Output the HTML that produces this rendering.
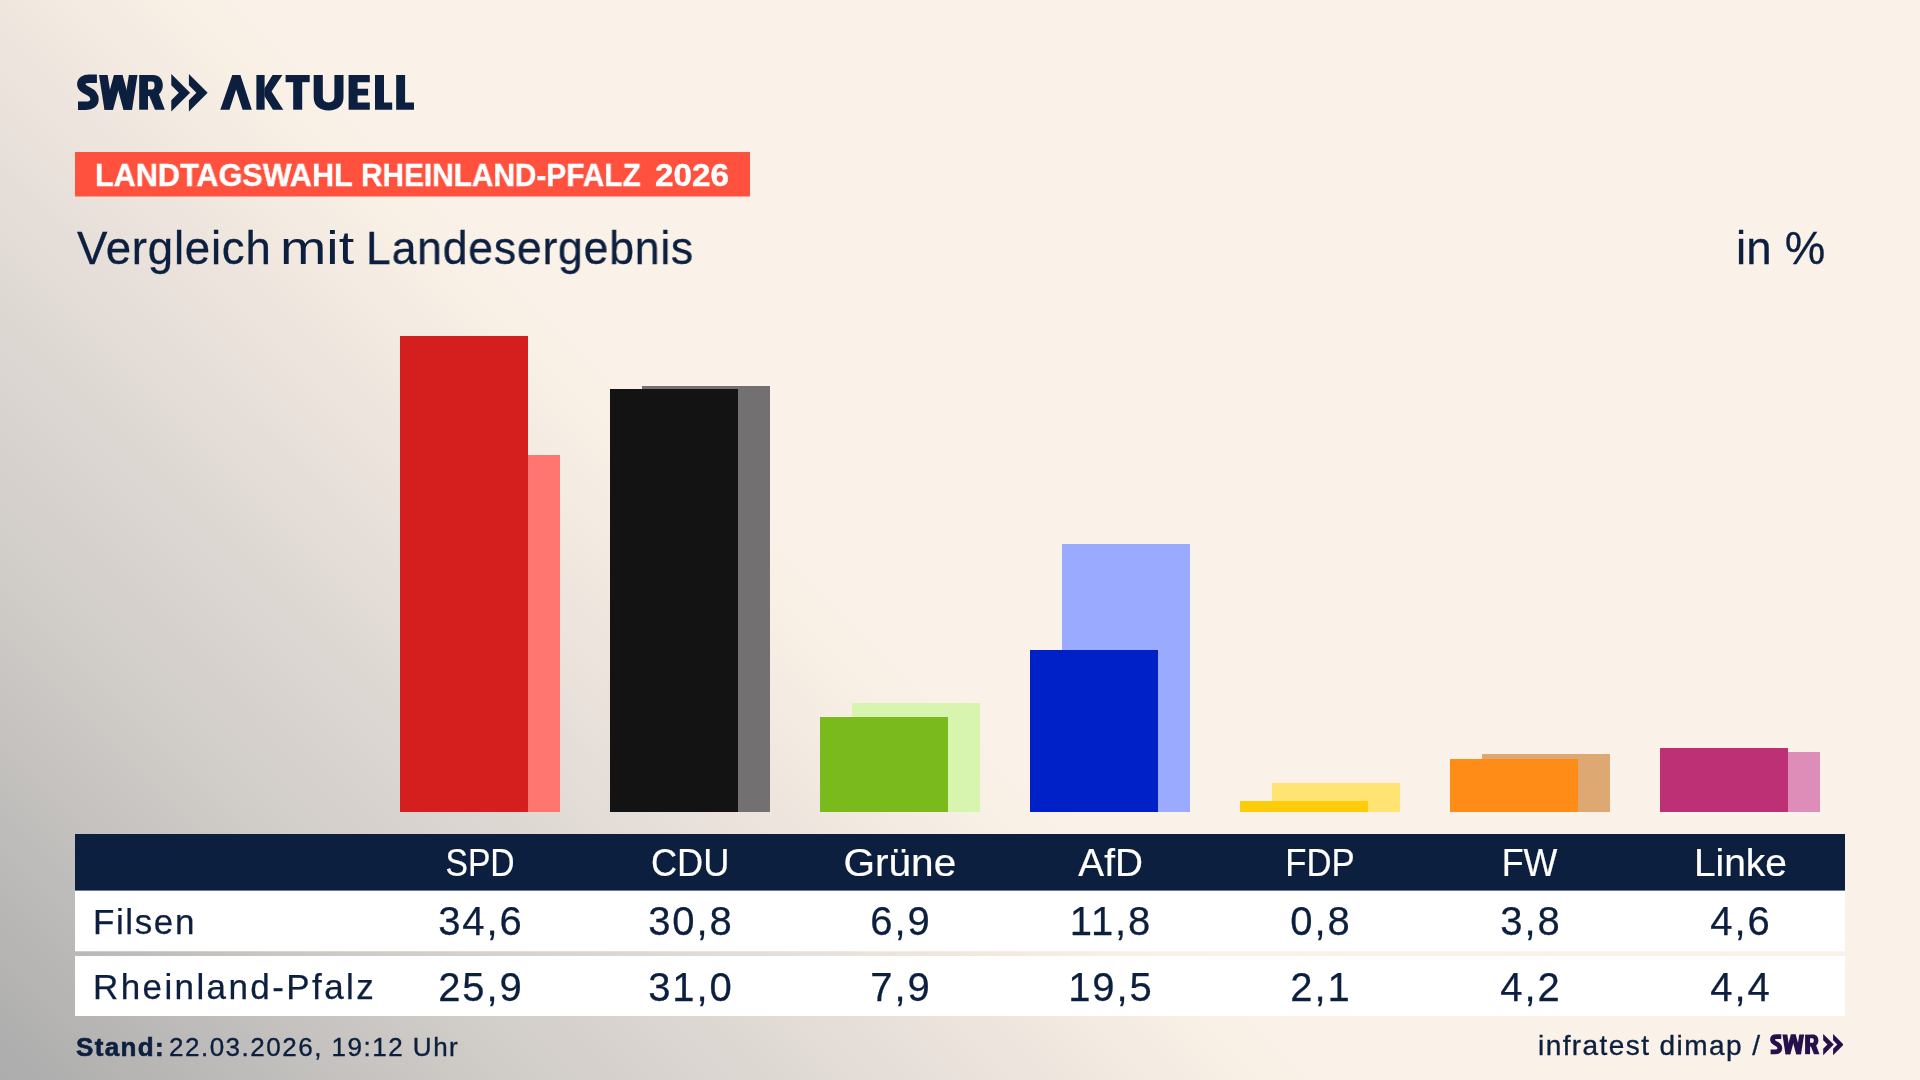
<!DOCTYPE html>
<html lang="de">
<head>
<meta charset="utf-8">
<title>SWR Aktuell – Landtagswahl Rheinland-Pfalz 2026</title>
<style>
*{box-sizing:border-box;margin:0;padding:0}
html,body{width:1920px;height:1080px;overflow:hidden}
body{
  position:relative;
  font-family:"Liberation Sans",sans-serif;
  color:#0c1f3f;
  background:linear-gradient(45deg,#acacac 0%,#d0ccc8 17%,#dfd9d4 26.5%,#ede4dd 34.5%,#f8efe5 41.5%,#faf2e8 45%,#faf2e8 100%);
}
.abs{position:absolute;white-space:nowrap;line-height:1}
#unit,#stand,#date,#src,.hl,.num,.lab,#badge span{will-change:transform}
#logo{position:absolute;left:0;top:0}
#badge{left:75px;top:152px;width:675px;height:44px;background:#ff513d}
#badge:after{content:"";position:absolute;left:0;top:44px;width:675px;height:1px;background:rgba(255,81,61,.5)}
#badge span{position:absolute;top:6.6px;font-size:32px;font-weight:700;color:#fff;line-height:32px;transform-origin:0 0;-webkit-text-stroke:.4px #fff}
#title{left:75.6px;top:225.8px;font-size:45.6px;-webkit-text-stroke:.3px #0c1f3f}
#title span{position:absolute;top:0;transform-origin:0 0;will-change:transform}
#unit{left:1735.6px;top:225.8px;font-size:45.6px;letter-spacing:.2px;-webkit-text-stroke:.3px #0c1f3f}
.bar{position:absolute;width:128px}
#thead{left:75px;top:834px;width:1770px;height:56px;background:#0c1f3f}
#thead:after{content:"";position:absolute;left:0;top:56px;width:1770px;height:1px;background:#6d798c}
.row{left:75px;width:1770px;background:#fff}
#r1{top:891px;height:60px}
#r1:after{content:"";position:absolute;left:0;top:60px;width:1770px;height:1px;background:rgba(255,255,255,.25)}
#r2{top:956px;height:60px}
.hl{position:absolute;width:210px;text-align:center;color:#fff;font-size:38px;line-height:38px;top:844px;-webkit-text-stroke:.2px #fff}
.hl span{display:inline-block}
.num{position:absolute;width:210px;text-align:center;font-size:40px;line-height:40px;letter-spacing:1.9px;padding-left:1.9px;-webkit-text-stroke:.25px #0c1f3f}
.lab{position:absolute;left:93.3px;font-size:35px;line-height:35px;-webkit-text-stroke:.25px #0c1f3f}
#stand{left:75.7px;top:1033.8px;font-size:26px;font-weight:700;letter-spacing:1.35px;-webkit-text-stroke:.6px #0c1f3f}
#date{left:169px;top:1033.8px;font-size:26px;letter-spacing:1.5px;-webkit-text-stroke:.35px #0c1f3f}
#src{left:1537.6px;top:1031.7px;font-size:28px;letter-spacing:1.42px;-webkit-text-stroke:.35px #0c1f3f}
</style>
</head>
<body>

<!-- LOGO -->
<svg id="logo" width="440" height="130" viewBox="0 0 440 130">
  <g id="swrmark" fill="#0c1f3f">
    <path d="M96.9 78.7L89 78.7C84.3 78.7 81.3 80.7 81.3 84.2C81.3 87.7 84.5 89.2 88 91C91.8 92.8 94.5 95.2 94.5 99.3C94.5 103.5 91 105.8 86 105.8L78 105.8" fill="none" stroke="#0c1f3f" stroke-width="8.4"/>
    <polygon points="99,75 107.6,75 113.05,109.7 104.45,109.7"/>
    <polygon points="104.45,109.7 113.05,109.7 122.55,75 113.95,75"/>
    <polygon points="113.95,75 122.55,75 132.05,109.7 123.45,109.7"/>
    <polygon points="123.45,109.7 132.05,109.7 137.5,75 128.9,75"/>
    <rect x="139.2" y="75" width="8.8" height="34.7"/>
    <path fill-rule="evenodd" d="M147.8 75H153C159 75 162.8 79 162.8 85.3C162.8 91.5 159 96 153 96H147.8ZM147.8 81.4H151.8C153.8 81.4 154.6 83 154.6 85.3C154.6 87.6 153.8 89.6 151.8 89.6H147.8Z"/>
    <polygon points="148.5,94 158.4,93 164.8,109.7 155,109.7"/>
    <polygon points="171.3,73.9 190.05,92.65 171.3,111.4 171.3,100.15 178.8,92.65 171.3,85.15"/>
    <polygon points="188.9,73.9 207.65,92.65 188.9,111.4 188.9,100.15 196.4,92.65 188.9,85.15"/>
  </g>
  <g fill="#0c1f3f">
    <polygon points="220.3,109.7 232.3,75 240.4,75 251.8,109.7 242.6,109.7 236.1,89.6 229.5,109.7"/>
    <rect x="256.4" y="75" width="8.2" height="34.7"/>
    <polygon points="272.5,75 282.4,75 271.5,91.5 283.3,109.7 273,109.7 264.4,96 264.4,88.5"/>
    <rect x="285.6" y="75" width="24.1" height="7.2"/>
    <rect x="293.2" y="75" width="9" height="34.7"/>
    <path d="M313.7 75H322.8V96.5C322.8 100.5 324.8 102.4 328.6 102.4C332.4 102.4 334.4 100.5 334.4 96.5V75H343.5V97C343.5 106 337.5 110.4 328.6 110.4C319.7 110.4 313.7 106 313.7 97Z"/>
    <path d="M348.6 75H369.8V82.3H357.6V88.7H368.1V95.6H357.6V102.5H369.8V109.7H348.6Z"/>
    <path d="M375 75H384V102.5H392.2V109.7H375Z"/>
    <path d="M396.2 75H405.1V102.5H414V109.7H396.2Z"/>
  </g>
</svg>

<div id="badge" class="abs"><span style="left:19.9px;transform:scaleX(.956)">LANDTAGSWAHL</span><span style="left:285.8px;transform:scaleX(.931)">RHEINLAND-PFALZ</span><span style="left:580.1px;transform:scaleX(1.039)">2026</span></div>
<div id="title" class="abs"><span style="left:1px;letter-spacing:.78px">Vergleich</span><span style="left:204.6px;transform:scaleX(1.22);-webkit-text-stroke:0">mit</span><span style="left:290.8px;transform:scaleX(.978);letter-spacing:.78px">Landesergebnis</span></div>
<div id="unit" class="abs">in %</div>

<!-- BARS (back = Rheinland-Pfalz, front = Filsen) -->
<div class="bar" style="left:432px;top:455px;height:357px;background:#ff7670"></div>
<div class="bar" style="left:400px;top:336px;height:476px;background:#d51f1f"></div>

<div class="bar" style="left:642px;top:386px;height:426px;background:#727070"></div>
<div class="bar" style="left:610px;top:389px;height:423px;background:#131313"></div>

<div class="bar" style="left:852px;top:703px;height:109px;background:#d7f5ae"></div>
<div class="bar" style="left:820px;top:717px;height:95px;background:#7aba1c"></div>

<div class="bar" style="left:1062px;top:544px;height:268px;background:#9aaaff"></div>
<div class="bar" style="left:1030px;top:650px;height:162px;background:#0021c8"></div>

<div class="bar" style="left:1272px;top:783px;height:29px;background:#ffe373"></div>
<div class="bar" style="left:1240px;top:801px;height:11px;background:#ffcc0a"></div>

<div class="bar" style="left:1482px;top:754px;height:58px;background:#dea872"></div>
<div class="bar" style="left:1450px;top:759px;height:53px;background:#ff8c17"></div>

<div class="bar" style="left:1692px;top:752px;height:60px;background:#de8cb8"></div>
<div class="bar" style="left:1660px;top:748px;height:64px;background:#be3075"></div>

<!-- TABLE -->
<div id="thead" class="abs"></div>
<div id="r1" class="abs row"></div>
<div id="r2" class="abs row"></div>

<div class="hl" style="left:375px"><span style="transform:scaleX(0.886)">SPD</span></div>
<div class="hl" style="left:585px"><span style="transform:scaleX(0.952)">CDU</span></div>
<div class="hl" style="left:795px"><span style="transform:scaleX(1.068)">Grüne</span></div>
<div class="hl" style="left:1005.9px"><span style="transform:scaleX(1.02)">AfD</span></div>
<div class="hl" style="left:1215px"><span style="transform:scaleX(0.913)">FDP</span></div>
<div class="hl" style="left:1425px"><span style="transform:scaleX(0.942)">FW</span></div>
<div class="hl" style="left:1635.2px"><span style="transform:scaleX(1.024)">Linke</span></div>

<div class="lab" style="top:903.9px;letter-spacing:1.6px">Filsen</div>
<div class="lab" style="top:969.3px;letter-spacing:2.4px">Rheinland-Pfalz</div>

<div class="num" style="left:375px;top:901.3px">34,6</div>
<div class="num" style="left:585px;top:901.3px">30,8</div>
<div class="num" style="left:795px;top:901.3px">6,9</div>
<div class="num" style="left:1005px;top:901.3px">11,8</div>
<div class="num" style="left:1215px;top:901.3px">0,8</div>
<div class="num" style="left:1425px;top:901.3px">3,8</div>
<div class="num" style="left:1635px;top:901.3px">4,6</div>

<div class="num" style="left:375px;top:966.6px">25,9</div>
<div class="num" style="left:585px;top:966.6px">31,0</div>
<div class="num" style="left:795px;top:966.6px">7,9</div>
<div class="num" style="left:1005px;top:966.6px">19,5</div>
<div class="num" style="left:1215px;top:966.6px">2,1</div>
<div class="num" style="left:1425px;top:966.6px">4,2</div>
<div class="num" style="left:1635px;top:966.6px">4,4</div>

<!-- FOOTER -->
<div id="stand" class="abs">Stand:</div>
<div id="date" class="abs">22.03.2026, 19:12 Uhr</div>
<div id="src" class="abs">infratest dimap /</div>
<svg class="abs" style="left:1769.6px;top:1034.4px" width="73.9" height="21.2" viewBox="77 73.9 131 37.6">
  <g fill="#25104b">
    <path d="M96.9 78.7L89 78.7C84.3 78.7 81.3 80.7 81.3 84.2C81.3 87.7 84.5 89.2 88 91C91.8 92.8 94.5 95.2 94.5 99.3C94.5 103.5 91 105.8 86 105.8L78 105.8" fill="none" stroke="#25104b" stroke-width="8.4"/>
    <polygon points="99,75 107.6,75 113.05,109.7 104.45,109.7"/>
    <polygon points="104.45,109.7 113.05,109.7 122.55,75 113.95,75"/>
    <polygon points="113.95,75 122.55,75 132.05,109.7 123.45,109.7"/>
    <polygon points="123.45,109.7 132.05,109.7 137.5,75 128.9,75"/>
    <rect x="139.2" y="75" width="8.8" height="34.7"/>
    <path fill-rule="evenodd" d="M147.8 75H153C159 75 162.8 79 162.8 85.3C162.8 91.5 159 96 153 96H147.8ZM147.8 81.4H151.8C153.8 81.4 154.6 83 154.6 85.3C154.6 87.6 153.8 89.6 151.8 89.6H147.8Z"/>
    <polygon points="148.5,94 158.4,93 164.8,109.7 155,109.7"/>
    <polygon points="171.3,73.9 190.05,92.65 171.3,111.4 171.3,100.15 178.8,92.65 171.3,85.15"/>
    <polygon points="188.9,73.9 207.65,92.65 188.9,111.4 188.9,100.15 196.4,92.65 188.9,85.15"/>
  </g>
</svg>

</body>
</html>
